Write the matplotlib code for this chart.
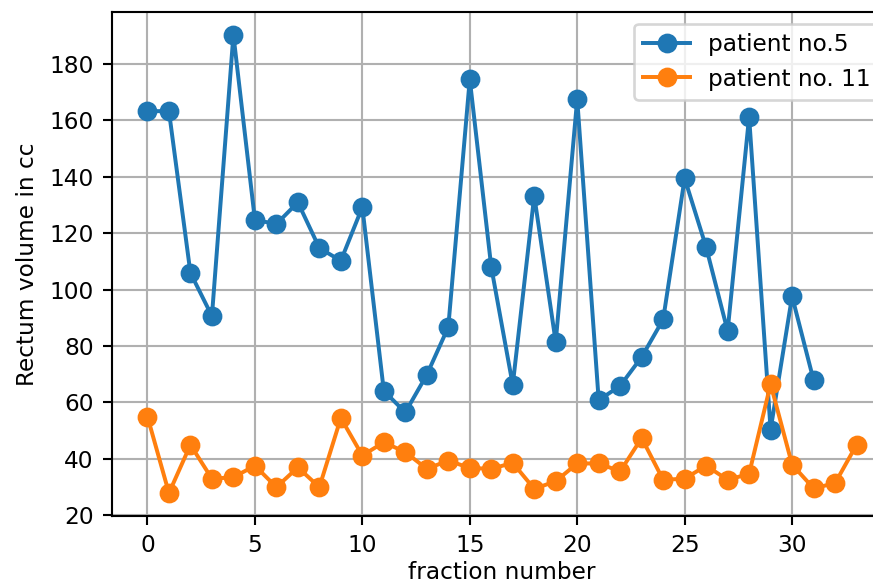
import matplotlib
matplotlib.use("Agg")
import matplotlib.pyplot as plt

fractions_5 = list(range(32))
patient5 = [163.2, 163.2, 105.9, 90.6, 190.2, 124.7, 123.2, 130.9, 114.7, 110.2,
            129.2, 64.1, 56.5, 69.8, 86.7, 174.5, 108.0, 66.2, 133.2, 81.4,
            167.5, 60.8, 65.9, 76.1, 89.4, 139.4, 115.0, 85.3, 161.2, 50.4,
            97.6, 67.9]
fractions_11 = list(range(34))
patient11 = [55.0, 27.9, 45.0, 33.0, 33.5, 37.6, 30.0, 37.0, 30.0, 54.5,
             41.2, 45.9, 42.4, 36.5, 39.4, 36.8, 36.5, 38.6, 29.4, 32.1,
             38.4, 38.4, 35.6, 47.4, 32.6, 33.0, 37.6, 32.6, 34.7, 66.5,
             38.0, 29.6, 31.4, 45.0]
labels = ["patient no.5", "patient no. 11"]

plt.rcParams["font.size"] = 8.8
dpi = 190
fig = plt.figure(figsize=(873 / dpi, 584 / dpi), dpi=dpi)
ax = fig.add_axes([112 / 873, 68 / 584, 780 / 873, 504 / 584])
ax.plot(fractions_5, patient5, "-o", color="#1f77b4", label=labels[0], markersize=6.5)
ax.plot(fractions_11, patient11, "-o", color="#ff7f0e", label=labels[1], markersize=6.5)
ax.grid(True)
ax.set_xlabel("fraction number", labelpad=1.5)
ax.set_ylabel("Rectum volume in cc")
ax.legend(loc="upper right")
fig.savefig("out.png", dpi=dpi)
